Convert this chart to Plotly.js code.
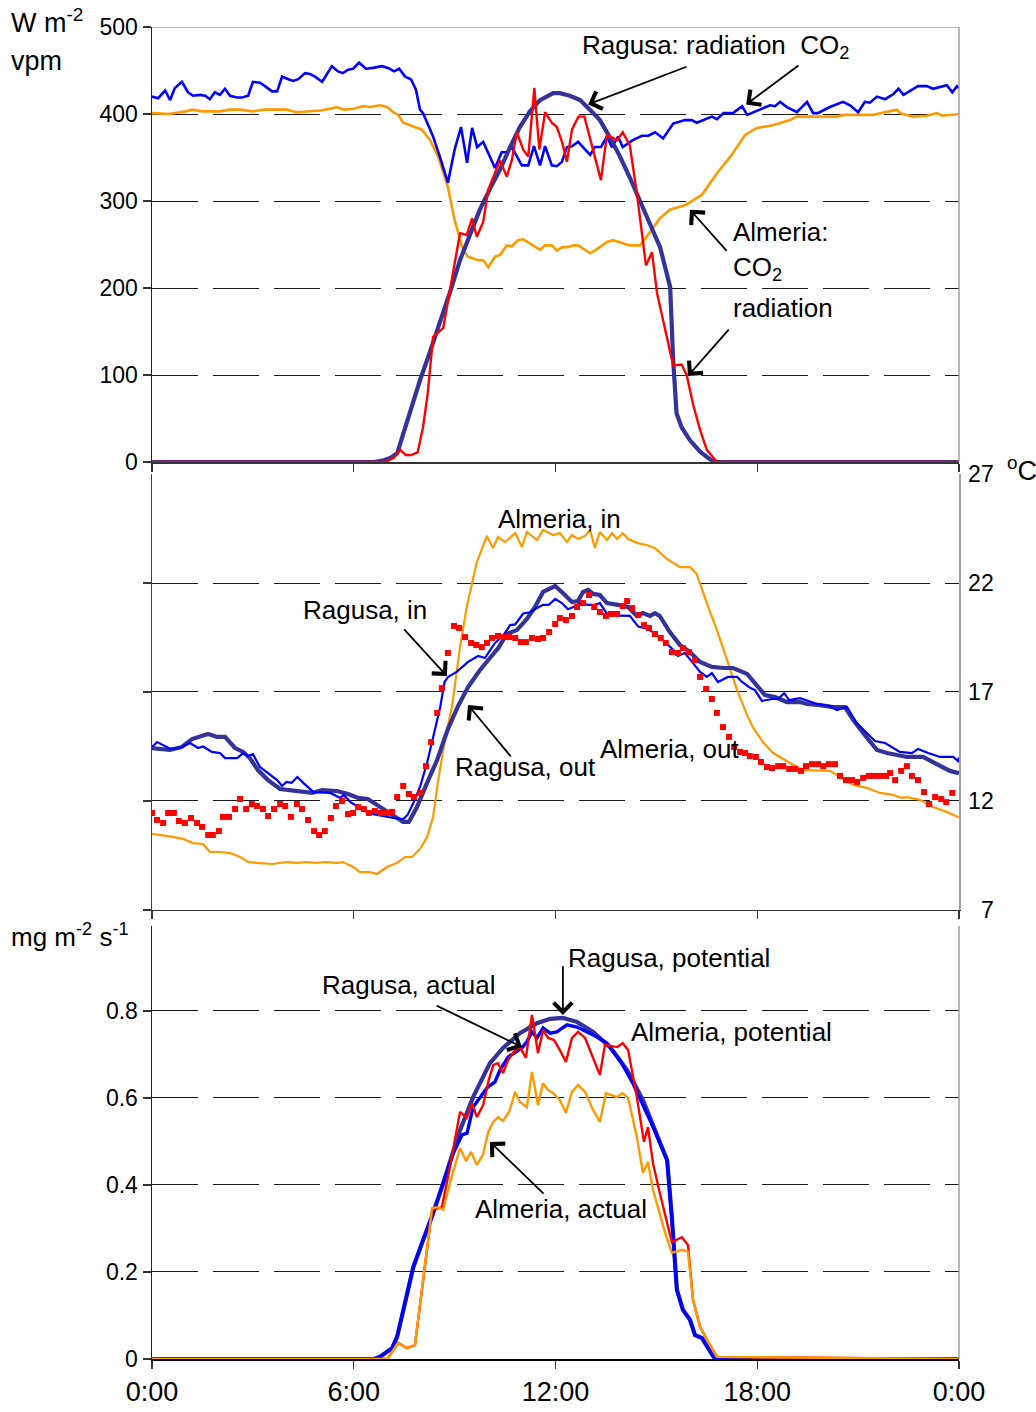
<!DOCTYPE html>
<html>
<head>
<meta charset="utf-8">
<script src="https://cdn.plot.ly/plotly-3.0.1.min.js"></script>
<style>html,body{margin:0;padding:0;background:#fff;}#chart{width:1036px;height:1412px;}</style>
</head>
<body>
<div id="chart"></div>
<script>
// ---------- Panel 1: radiation (W m-2) and CO2 (vpm) ----------
const ragRadT = [0,6.6,6.9,7.1,7.29,7.45,7.76,7.97,8.27,8.57,8.87,9.16,9.45,9.75,10.05,10.35,10.65,10.94,11.24,11.54,11.93,12.13,12.43,12.73,13.02,13.32,13.62,13.92,14.21,14.51,14.81,15.11,15.41,15.5,15.6,15.75,16.0,16.3,16.6,16.8,24];
const ragRadV = [0,0,2,5,10,30,71,94,127,160,196,232,262,290,314,336,362,385,403,416,424,424,421,416,405,393,373,351,327,301,275,247,201,117,56,40,25,12,3,0,0];

const almRadT = [0,6.95,7.2,7.38,7.55,7.7,7.9,8.06,8.2,8.36,8.66,8.86,9.16,9.36,9.52,9.66,9.85,10.0,10.17,10.35,10.55,10.7,10.85,11.04,11.19,11.37,11.52,11.69,11.89,12.04,12.2,12.34,12.49,12.68,12.86,13.11,13.35,13.53,13.83,14.0,14.21,14.42,14.57,14.69,14.87,15.02,15.2,15.41,15.5,15.75,15.9,16.1,16.3,16.5,16.8,24];
const almRadV = [0,0,5,14,8,8,11,40,79,144,154,198,263,261,280,259,276,313,330,347,328,347,379,359,351,430,359,402,390,385,367,345,382,397,397,359,324,376,370,379,364,309,263,226,241,194,163,129,111,112,100,65,37,14,0,0];

const ragCO2T = [0,0.18,0.39,0.54,0.68,0.89,1.07,1.22,1.43,1.58,1.72,1.87,2.02,2.17,2.32,2.53,2.68,2.86,3.0,3.21,3.36,3.57,3.72,3.87,4.05,4.2,4.35,4.55,4.7,4.85,5.06,5.35,5.53,5.68,5.83,5.98,6.16,6.36,6.57,6.84,7.02,7.2,7.35,7.53,7.7,7.85,7.97,8.06,8.24,8.36,8.56,8.8,9.0,9.19,9.37,9.52,9.67,9.85,10.2,10.4,10.55,10.7,11.0,11.19,11.36,11.54,11.69,11.89,12.04,12.19,12.34,12.49,12.67,13.03,13.17,13.35,13.53,13.68,13.86,14.0,14.3,14.57,14.76,14.96,15.2,15.5,15.85,16.05,16.2,16.39,16.65,16.8,17.0,17.28,17.55,17.7,17.88,18.14,18.38,18.53,18.68,18.88,19.18,19.48,19.66,19.8,20.16,20.55,20.76,21.0,21.2,21.35,21.56,21.8,22.05,22.2,22.35,22.78,23.04,23.23,23.64,23.8,23.94,24];
const ragCO2V = [420,418,427,416,430,437,425,421,422,421,417,425,422,429,421,419,419,421,437,436,432,426,426,443,440,438,440,447,446,443,437,455,449,447,451,452,459,452,453,455,453,449,452,443,440,428,405,401,385,374,351,321,359,385,344,384,362,368,338,356,356,362,341,341,363,341,363,341,340,345,362,363,368,353,362,362,374,362,374,362,370,375,375,379,372,389,393,393,390,393,397,394,401,401,409,399,402,406,410,409,414,408,402,414,401,401,408,414,410,402,414,413,420,417,423,429,422,432,432,429,433,425,432,430];

const almCO2T = [0,0.5,1.0,1.19,1.5,2.0,2.3,2.6,3.0,3.3,3.6,4.0,4.3,4.6,5.0,5.3,5.5,5.7,6.0,6.28,6.5,6.78,6.99,7.18,7.32,7.47,7.76,8.03,8.27,8.51,8.8,9.0,9.25,9.4,9.7,9.85,10.0,10.2,10.35,10.55,10.7,10.88,11.04,11.54,11.69,11.89,12.04,12.2,12.37,12.53,12.67,13.03,13.17,13.53,13.72,14.21,14.51,14.81,15.1,15.4,15.85,16.35,16.8,17.2,17.64,17.99,18.47,18.97,19.18,20.37,20.55,21.44,22.15,22.25,22.63,23.04,23.34,23.5,24];
const almCO2V = [401,400,403,405,403,403,405,405,403,405,405,405,402,403,404,406,408,405,406,409,408,410,408,402,399,390,386,382,370,351,316,278,244,236,232,232,224,236,238,249,248,255,256,244,249,249,243,247,247,249,249,240,243,253,255,249,249,264,280,290,295,307,332,351,376,384,387,393,397,397,399,399,405,401,397,398,401,398,400];

// ---------- Panel 2: temperature (oC) ----------
const ragInT = [0,0.15,0.54,0.83,1.13,1.37,1.52,1.78,2.02,2.17,2.53,2.71,2.86,3.0,3.21,3.45,3.72,3.87,4.0,4.15,4.32,4.5,4.8,5.3,5.6,5.7,5.9,6.1,6.39,6.58,6.99,7.18,7.47,7.6,7.77,7.97,8.18,8.36,8.57,8.7,8.8,9.06,9.4,9.7,9.9,10.2,10.45,10.65,10.8,11.04,11.24,11.45,11.63,11.8,11.99,12.19,12.37,12.53,12.73,12.97,13.17,13.32,13.53,13.7,13.92,14.21,14.46,14.72,14.9,15.2,15.46,15.64,15.85,16.06,16.3,16.5,16.65,16.83,17.13,17.4,17.55,17.8,17.93,18.14,18.44,18.62,18.8,18.95,19.27,19.5,19.78,20.16,20.37,20.67,20.96,21.26,21.5,21.8,22.24,22.6,22.78,23.08,23.44,23.83,23.97,24];
const ragInV = [14.48,14.7,14.4,14.43,14.66,14.43,14.5,14.25,14.2,13.97,13.97,14.2,14.06,14.15,13.56,13.28,12.96,12.69,12.87,12.83,13.1,12.83,12.41,12.37,12.14,12.28,11.95,11.77,11.5,11.4,11.27,11.22,11.17,11.36,11.9,12.64,13.74,14.94,16.3,17.45,17.69,17.92,18.38,18.65,18.56,19.25,19.6,20.07,20.1,20.6,20.66,20.85,21.0,21.0,21.27,21.08,20.8,20.9,21.08,21.0,21.0,21.08,20.6,20.6,20.5,20.49,20.0,19.9,19.75,19.38,19.0,18.65,18.79,18.38,17.92,17.69,17.87,17.46,17.69,17.69,17.46,17.18,17.09,16.59,16.68,16.68,16.95,16.63,16.72,16.6,16.45,16.36,16.17,16.31,15.58,15.12,14.75,14.66,14.25,14.2,14.39,14.2,14.02,14.02,13.83,14.0];

const ragOutT = [0,0.54,0.89,1.19,1.67,1.93,2.17,2.47,2.71,2.91,3.15,3.45,3.81,4.1,4.5,4.76,5.06,5.5,5.83,6.13,6.42,6.78,7.17,7.47,7.64,7.88,8.18,8.48,8.8,9.1,9.4,9.75,10.05,10.3,10.55,10.85,11.15,11.39,11.63,11.99,12.22,12.49,12.67,12.82,12.97,13.12,13.32,13.53,13.86,14.16,14.42,14.6,14.81,14.96,15.1,15.4,15.7,16.0,16.3,16.65,17.0,17.28,17.7,17.99,18.23,18.53,18.88,19.27,19.48,19.87,20.25,20.61,20.85,21.15,21.56,21.86,22.45,22.93,23.23,23.53,23.73,24];
const ragOutV = [14.43,14.34,14.48,14.84,15.07,14.94,14.94,14.43,14.25,13.97,13.42,12.96,12.55,12.5,12.46,12.37,12.5,12.46,12.32,12.14,12.09,11.72,11.31,11.04,11.04,11.72,12.83,13.88,15.3,16.35,17.23,18.0,18.56,19.02,19.66,19.84,20.35,20.9,21.59,21.86,21.54,21.13,21.17,21.59,21.68,21.5,21.45,21.08,21.0,20.9,20.49,20.62,20.49,20.62,20.49,19.75,19.16,18.83,18.38,18.15,18.1,18.1,17.83,17.32,16.86,16.77,16.54,16.54,16.45,16.4,16.31,16.31,15.72,15.12,14.34,14.2,14.02,14.02,13.79,13.51,13.38,13.28];

const almInT = [0,0.24,0.62,0.92,1.22,1.52,1.72,2.02,2.32,2.62,2.86,3.12,3.57,4.01,4.31,4.6,4.9,5.14,5.5,5.68,5.98,6.19,6.48,6.69,6.99,7.29,7.53,7.73,7.97,8.18,8.36,8.5,8.71,8.92,9.16,9.36,9.66,9.96,10.14,10.29,10.5,10.8,11.0,11.15,11.45,11.63,11.93,12.13,12.34,12.49,12.67,12.88,13.03,13.17,13.32,13.53,13.68,13.83,14.0,14.16,14.45,14.72,14.96,15.32,15.7,16.0,16.2,16.5,16.8,17.1,17.4,17.7,17.88,18.17,18.47,18.97,19.36,20.16,20.46,20.85,21.26,21.65,22.04,22.3,22.45,22.84,23.23,23.63,23.97,24];
const almInV = [10.49,10.44,10.35,10.26,10.07,10.03,9.66,9.66,9.61,9.43,9.2,9.16,9.11,9.2,9.16,9.2,9.16,9.2,9.16,9.2,8.97,8.74,8.74,8.65,8.97,9.16,9.43,9.43,9.8,10.35,11.27,12.83,14.8,16.3,19.06,20.9,22.96,24.16,23.6,24.11,23.88,24.29,23.65,24.34,23.97,24.43,24.2,24.29,23.88,24.2,24.02,24.16,24.43,23.6,24.34,23.97,24.29,24.02,24.29,24.02,23.83,23.74,23.6,23.1,22.73,22.73,22.41,21.08,19.84,18.47,17.09,15.94,15.35,14.7,14.2,13.74,13.42,13.38,13.1,12.73,12.6,12.37,12.28,12.14,12.18,12.05,11.72,11.5,11.27,11.25];

const almOutT = [0.0,0.15,0.33,0.48,0.65,0.8,0.98,1.16,1.34,1.49,1.67,1.81,1.99,2.11,2.29,2.47,2.62,2.8,2.97,3.12,3.3,3.45,3.63,3.81,3.96,4.13,4.31,4.46,4.64,4.82,4.97,5.14,5.32,5.47,5.65,5.83,5.98,6.13,6.3,6.45,6.63,6.81,6.96,7.14,7.29,7.47,7.64,7.79,7.97,8.15,8.3,8.48,8.62,8.8,8.98,9.13,9.31,9.49,9.64,9.81,9.96,10.11,10.29,10.47,10.62,10.8,10.97,11.12,11.3,11.48,11.63,11.81,11.99,12.13,12.31,12.49,12.64,12.82,13.0,13.15,13.32,13.5,13.65,13.83,14.0,14.13,14.28,14.46,14.63,14.78,14.96,15.13,15.28,15.46,15.64,15.79,15.97,16.15,16.3,16.48,16.65,16.8,16.98,17.16,17.31,17.49,17.64,17.78,17.96,18.11,18.29,18.44,18.62,18.77,18.95,19.12,19.3,19.45,19.63,19.81,19.96,20.13,20.31,20.46,20.64,20.82,20.97,21.15,21.32,21.47,21.65,21.83,21.95,22.1,22.28,22.45,22.6,22.78,22.96,23.11,23.29,23.47,23.62,23.8];
const almOutV = [11.45,11.13,10.99,11.45,11.45,11.08,10.99,11.22,10.99,10.81,10.44,10.44,10.62,11.27,11.27,11.63,12.09,11.63,11.86,11.77,11.63,11.31,11.63,11.86,11.77,11.27,11.86,11.63,11.13,10.62,10.44,10.62,11.22,11.77,12.0,11.4,11.45,11.72,11.63,11.45,11.54,11.45,11.45,11.5,12.18,12.69,12.32,12.18,12.37,13.6,14.7,16.04,17.18,18.79,20.03,19.94,19.52,19.25,19.16,19.06,19.25,19.48,19.57,19.52,19.52,19.48,19.29,19.29,19.48,19.43,19.48,19.75,20.12,20.39,20.3,20.49,20.9,21.08,21.45,20.9,20.67,20.49,20.58,20.58,20.94,21.17,20.85,20.53,20.07,19.94,19.66,19.48,19.25,18.83,18.79,19.02,18.83,18.47,17.69,17.14,16.68,16.04,15.39,14.94,14.48,14.25,14.2,14.06,14.02,13.79,13.56,13.51,13.6,13.6,13.47,13.47,13.38,13.6,13.69,13.69,13.6,13.69,13.69,13.15,12.96,12.96,12.87,13.06,13.15,13.15,13.15,13.15,13.28,12.96,13.38,13.6,13.15,12.96,12.41,11.86,12.18,12.09,11.95,12.37];

// ---------- Panel 3: photosynthesis (mg m-2 s-1) ----------
const ragPotT = [0,6.6,6.78,7.14,7.29,7.47,7.77,8.06,8.36,8.66,8.96,9.16,9.55,10.05,10.44,10.94,11.45,11.84,12.22,12.64,13.12,13.62,14.13,14.6,14.81,15.32,15.46,15.61,15.79,16.0,16.15,16.36,16.54,16.7,16.8,24];
const ragPotV = [0,0,0.005,0.025,0.051,0.113,0.211,0.273,0.335,0.404,0.473,0.526,0.602,0.68,0.715,0.749,0.772,0.782,0.784,0.775,0.752,0.717,0.664,0.595,0.555,0.457,0.326,0.159,0.113,0.09,0.055,0.048,0.025,0.005,0,0];

const ragActT = [0,6.6,6.78,7.14,7.29,7.47,7.77,8.06,8.36,8.66,8.96,9.22,9.37,9.55,9.75,9.96,10.2,10.35,10.59,10.8,11.0,11.15,11.3,11.45,11.63,11.84,12.04,12.34,12.64,13.12,13.53,13.92,14.3,14.81,15.32,15.46,15.61,15.79,16.0,16.15,16.36,16.54,16.7,16.8,24];
const ragActV = [0,0,0.005,0.025,0.051,0.113,0.211,0.273,0.335,0.404,0.473,0.515,0.519,0.579,0.602,0.623,0.637,0.664,0.694,0.706,0.715,0.729,0.752,0.738,0.761,0.749,0.752,0.768,0.763,0.745,0.726,0.687,0.634,0.549,0.457,0.326,0.159,0.113,0.09,0.055,0.048,0.025,0.005,0,0];

const almPotT = [0,7.0,7.32,7.58,7.82,8.06,8.33,8.62,8.86,9.16,9.36,9.52,9.66,9.85,10.0,10.15,10.29,10.44,10.59,10.8,10.94,11.12,11.3,11.48,11.63,11.78,11.96,12.13,12.31,12.49,12.67,12.88,13.12,13.32,13.47,13.83,14.0,14.16,14.42,14.63,14.75,14.9,15.1,15.46,15.76,15.94,16.09,16.3,16.54,16.8,24];
const almPotV = [0,0,0.037,0.025,0.032,0.175,0.343,0.349,0.441,0.568,0.554,0.588,0.556,0.584,0.637,0.676,0.68,0.657,0.687,0.71,0.717,0.692,0.791,0.703,0.756,0.738,0.733,0.71,0.683,0.738,0.752,0.738,0.694,0.653,0.722,0.717,0.726,0.71,0.602,0.499,0.533,0.45,0.382,0.269,0.28,0.262,0.136,0.074,0.039,0.005,0];

const almActT = [0,7.0,7.32,7.58,7.82,8.06,8.33,8.51,8.66,8.86,9.16,9.34,9.49,9.66,9.84,10.0,10.15,10.29,10.44,10.62,10.8,10.94,11.15,11.3,11.48,11.63,11.78,11.93,12.13,12.31,12.49,12.67,12.88,13.12,13.32,13.5,13.83,14.0,14.16,14.42,14.6,14.75,14.9,15.26,15.46,15.76,15.94,16.09,16.3,16.54,16.8,24];
const almActV = [0,0,0.037,0.025,0.032,0.175,0.347,0.349,0.343,0.404,0.485,0.455,0.476,0.446,0.469,0.522,0.545,0.556,0.547,0.568,0.614,0.591,0.579,0.66,0.584,0.634,0.618,0.611,0.595,0.566,0.614,0.63,0.614,0.572,0.545,0.611,0.602,0.611,0.6,0.51,0.428,0.453,0.389,0.29,0.244,0.251,0.246,0.136,0.074,0.039,0.005,0];

// ---------- tick labels ----------
const hourTicks = [0,6,12,18,24];
const hourLabels = ['0:00','6:00','12:00','18:00','0:00'];
const radTicks = [0,100,200,300,400,500];
const tempTicks = [7,12,17,22,27];
const tempLabels = ['\u20077','12','17','22','27'];
const photoTicks = [0,0.2,0.4,0.6,0.8];
const photoLabels = ['0','0.2','0.4','0.6','0.8'];

// ---------- styling ----------
const NAVY = '#333399', BLUE = '#0000FF', RED = '#FF0000', ORANGE = '#FF9900';
const REG = 'Liberation Sans, Arial, sans-serif';
const GRID = {showgrid:true, gridcolor:'#1a1a1a', gridwidth:1, griddash:'46px,15px'};

function line(x, y, color, width, xa, ya) {
  return {x, y, type:'scatter', mode:'lines', line:{color, width, shape:'linear'}, xaxis:xa, yaxis:ya, hoverinfo:'skip'};
}

const traces = [
  line(almCO2T, almCO2V, ORANGE, 2.6, 'x', 'y'),
  line(ragCO2T, ragCO2V, BLUE, 2.6, 'x', 'y'),
  line(ragRadT, ragRadV, NAVY, 4.2, 'x', 'y'),
  line(almRadT, almRadV, RED, 2.4, 'x', 'y'),

  // invisible carrier so the right-hand temperature axis is drawn
  {x: almInT, y: almInV, type:'scatter', mode:'lines', line:{width:0, color:'rgba(0,0,0,0)'}, xaxis:'x2', yaxis:'y4', hoverinfo:'skip'},
  line(almInT, almInV, ORANGE, 2.2, 'x2', 'y2'),
  line(ragOutT, ragOutV, NAVY, 4.2, 'x2', 'y2'),
  line(ragInT, ragInV, BLUE, 2.2, 'x2', 'y2'),
  {x: almOutT, y: almOutV, type:'scatter', mode:'markers', marker:{symbol:'square', size:6, color:RED}, xaxis:'x2', yaxis:'y2', hoverinfo:'skip'},

  line(ragPotT, ragPotV, NAVY, 4.2, 'x3', 'y3'),
  line(ragActT, ragActV, BLUE, 3.4, 'x3', 'y3'),
  line(almPotT, almPotV, RED, 2.4, 'x3', 'y3'),
  line(almActT, almActV, ORANGE, 2.4, 'x3', 'y3')
];

const xBase = {range:[0,24], tickvals:hourTicks, ticks:'outside', ticklen:8, tickwidth:1.2, tickcolor:'#333',
  showline:true, linecolor:'#333', linewidth:1.5, showgrid:false, zeroline:false, fixedrange:true};
const yBase = {ticks:'outside', ticklen:8, tickwidth:1.2, tickcolor:'#333', showline:true, linecolor:'#222', linewidth:1.5,
  zeroline:false, tickfont:{family:REG, size:23, color:'#000'}, fixedrange:true};

const D1 = [0.6734, 1.0], D2 = [0.3371, 0.6644], D3 = [0, 0.3251];

function txt(text, x, y, xref, yref, xanchor, size) {
  return {text, x, y, xref, yref, showarrow:false, xanchor:xanchor||'center', yanchor:'middle',
    font:{family:REG, size:size||26, color:'#000'}};
}
function arr(x0, y0, x1, y1, xref, yref) {
  return {text:'', x:x1, y:y1, ax:x0, ay:y0, xref, yref, axref:xref, ayref:yref, showarrow:true,
    arrowhead:4, arrowsize:2.0, arrowwidth:1.8, arrowcolor:'#000', standoff:0, startstandoff:0};
}

const annotations = [
  // panel 1
  txt('Ragusa: radiation  CO<sub>2</sub>', 12.73, 478, 'x', 'y', 'left'),
  arr(15.94, 455, 12.97, 411, 'x', 'y'),
  arr(19.27, 457, 17.67, 411, 'x', 'y'),
  txt('Almeria:', 17.22, 264, 'x', 'y', 'left'),
  txt('CO<sub>2</sub>', 17.22, 222, 'x', 'y', 'left'),
  txt('radiation', 17.22, 177, 'x', 'y', 'left'),
  arr(17.13, 241, 16.0, 290, 'x', 'y'),
  arr(17.19, 154, 15.94, 99, 'x', 'y'),
  // panel 2
  txt('Almeria, in', 12.13, 24.94, 'x2', 'y2'),
  txt('Ragusa, in', 6.33, 20.76, 'x2', 'y2'),
  arr(7.46, 19.94, 8.77, 17.73, 'x2', 'y2'),
  txt('Ragusa, out', 11.12, 13.56, 'x2', 'y2'),
  arr(10.71, 13.97, 9.4, 16.4, 'x2', 'y2'),
  txt('Almeria, out', 15.38, 14.39, 'x2', 'y2'),
  // panel 3
  txt('Ragusa, potential', 15.38, 0.922, 'x3', 'y3'),
  arr(12.22, 0.906, 12.22, 0.791, 'x3', 'y3'),
  txt('Ragusa, actual', 7.64, 0.86, 'x3', 'y3'),
  arr(8.42, 0.814, 11.0, 0.717, 'x3', 'y3'),
  txt('Almeria, potential', 17.22, 0.752, 'x3', 'y3'),
  txt('Almeria, actual', 12.16, 0.345, 'x3', 'y3'),
  arr(11.69, 0.377, 10.05, 0.499, 'x3', 'y3'),
  // unit labels
  txt('W m<sup>-2</sup>', -0.1775, 1.0045, 'paper', 'paper', 'left', 27),
  txt('vpm', -0.1775, 0.9745, 'paper', 'paper', 'left', 27),
  txt('mg m<sup>-2</sup> s<sup>-1</sup>', -0.1775, 0.3176, 'paper', 'paper', 'left', 26),
  txt('<sup>o</sup>C', 1.0565, 0.6685, 'paper', 'paper', 'left', 27)
];

const shapes = [
  {type:'line', xref:'paper', yref:'y', x0:0, x1:1, y0:500, y1:500, line:{color:'#a0a0a0', width:1.5}, layer:'above'},
  {type:'line', xref:'paper', yref:'y', x0:1, x1:1, y0:0, y1:500, line:{color:'#a0a0a0', width:1.5}, layer:'above'},
  {type:'line', xref:'paper', yref:'y3', x0:1, x1:1, y0:0, y1:0.9954, line:{color:'#a0a0a0', width:1.5}, layer:'above'}
];

const layout = {
  width:1036, height:1412,
  margin:{l:152, r:77, t:27, b:53},
  paper_bgcolor:'#fff', plot_bgcolor:'rgba(0,0,0,0)',
  showlegend:false,
  font:{family:REG, color:'#000'},
  xaxis: Object.assign({}, xBase, {domain:[0,1], anchor:'y', showticklabels:false}),
  xaxis2: Object.assign({}, xBase, {domain:[0,1], anchor:'y2', showticklabels:false}),
  xaxis3: Object.assign({}, xBase, {domain:[0,1], anchor:'y3', ticktext:hourLabels,
    tickfont:{family:REG, size:27, color:'#000'}, linecolor:'#000'}),
  yaxis: Object.assign({}, yBase, GRID, {domain:D1, anchor:'x', range:[0,500], tickvals:radTicks}),
  yaxis2: Object.assign({}, yBase, GRID, {domain:D2, anchor:'x2', range:[7,27], tickvals:[7,12,17,22], showticklabels:false, linecolor:'#444'}),
  yaxis4: Object.assign({}, yBase, {overlaying:'y2', side:'right', anchor:'x2', range:[7,27], tickvals:tempTicks, ticktext:tempLabels,
    ticks:'', showgrid:false, linecolor:'#a0a0a0', ticklabelstandoff:3}),
  yaxis3: Object.assign({}, yBase, GRID, {domain:D3, anchor:'x3', range:[0,0.9954], tickvals:photoTicks, ticktext:photoLabels}),
  annotations, shapes
};

Plotly.newPlot('chart', traces, layout, {staticPlot:true, displayModeBar:false});
</script>
</body>
</html>
